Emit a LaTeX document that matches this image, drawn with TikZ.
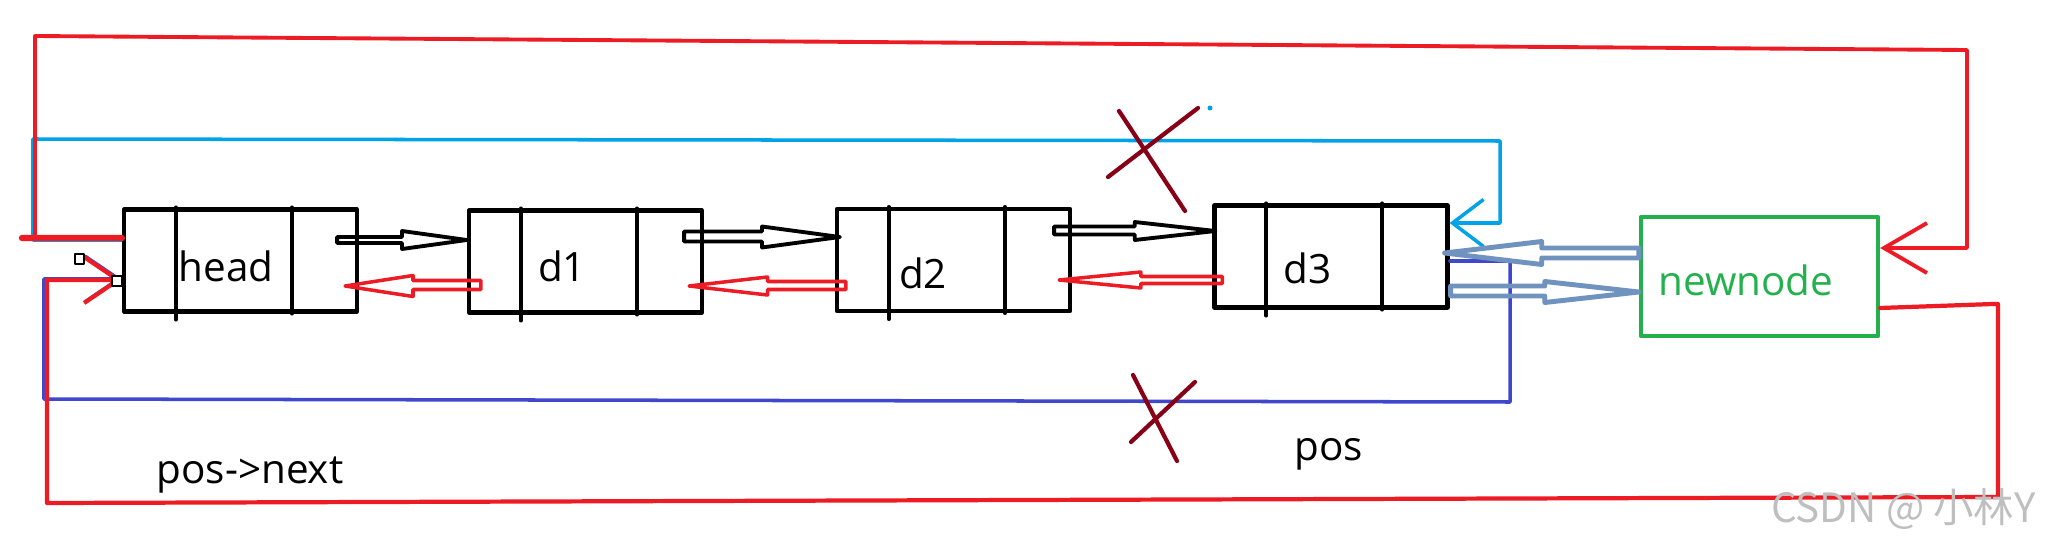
\documentclass[tikz,border=0pt]{standalone}
\usepackage{fontspec}
\setmainfont{Open Sans}
\newfontfamily\cjk{Noto Sans CJK SC}
\usetikzlibrary{calc,arrows.meta}

\definecolor{rojo}{HTML}{ED1C24}
\definecolor{celeste}{HTML}{00A2E8}
\definecolor{anil}{HTML}{3F48CC}
\definecolor{verde}{HTML}{22B14C}
\definecolor{granate}{HTML}{880015}
\definecolor{grisazul}{HTML}{7092BE}

\tikzset{
	caja/.style={draw, line width=1.2pt, minimum width=2.33cm, minimum height=1.02cm, inner sep=0pt},
	texto/.style={font=\fontsize{11.5}{13}\selectfont},
	cruz/.style={granate, line width=1.2pt},
}

% flecha hueca: estilo, medio eje, media punta, cola, punta
\newcommand{\flechahueca}[5]{%
	\draw[#1] let \p1=#4, \p2=#5, \p3=($#4!.5!#5$) in
		(\x1,\y1-#2) -- (\x3,\y1-#2) -- (\x3,\y2-#3) -- (\x2,\y2)
		-- (\x3,\y2+#3) -- (\x3,\y1+#2) -- (\x1,\y1+#2) -- cycle;}

\begin{document}
\begin{tikzpicture}[line cap=round, line join=round]
\useasboundingbox (0,0) rectangle (20.52,5.48);

% Nodos
\node[caja] (head) at (2.405,2.875) {};
\node[caja] (d1) at (5.855,2.865) {};
\node[caja] (d2) at (9.535,2.88) {};
\node[caja] (d3) at (13.31,2.915) {};
\node[caja, draw=verde, minimum width=2.37cm, minimum height=1.19cm] (newnode) at (17.595,2.715) {};

	\foreach \n in {head,d1,d2,d3} {
		\draw[line width=1.1pt] ([xshift=5.4mm]\n.north west) -- ([xshift=5.4mm,yshift=-0.6mm]\n.south west);
		\draw[line width=1.1pt] ([xshift=17mm]\n.north west) -- ([xshift=17mm]\n.south west);
	}

\node[texto] (thead) at (2.26,2.82) {head};
\node[texto] (td1) at (5.62,2.82) {d1};
\node[texto] (td2) at (9.23,2.745) {d2};
\node[texto] (td3) at (13.075,2.80) {d3};
\node[texto, text=verde] (tnew) at (17.46,2.675) {newnode};
\node[texto, anchor=base] (tpos) at (13.29,0.88) {pos};
\node[texto, anchor=base] (tnext) at (2.50,0.65) {pos->next};

% Enlaces de vuelta
\draw[celeste, line width=1pt, -{Straight Barb[length=3.1mm,width=4.7mm]}]
	([yshift=2.05mm]head.west) -- (0.33,3.08) -- (0.33,4.09) -- (15.00,4.07) -- (15.00,3.25) -- ([yshift=3.35mm]d3.east);
\draw[anil, line width=1pt, -{Straight Barb[length=3.4mm,width=4.6mm]}]
	([yshift=-0.45mm]d3.east) -- (15.10,2.87) -- (15.10,1.46) -- (0.44,1.49) -- (0.44,2.69) -- ([yshift=-1.85mm]head.west);
\draw[rojo, line width=1.8pt] (0.22,3.10) -- ([yshift=2.25mm]head.west);
\draw[rojo, line width=1.1pt, -{Straight Barb[length=4.3mm,width=5mm]}]
	([yshift=2.25mm]head.west) -- (0.35,3.10) -- (0.35,5.12) -- (19.67,4.98) -- (19.67,3.00) -- ([yshift=2.85mm]newnode.east);
\draw[rojo, line width=1.2pt, -{Straight Barb[length=3.4mm,width=4.6mm]}]
	([yshift=-3.15mm]newnode.east) -- (19.93,2.44) -- (19.98,2.44) -- (19.98,0.51) -- (0.47,0.45) -- (0.47,2.68) -- ([yshift=-1.95mm]head.west);

% Flechas entre nodos
\flechahueca{line width=1.1pt}{0.3mm}{0.9mm}{([xshift=-2.2mm,yshift=2.05mm]head.east)}{([yshift=2.15mm]d1.west)}
\flechahueca{line width=1.1pt}{0.5mm}{1.05mm}{([xshift=-2mm,yshift=2.5mm]d1.east)}{([xshift=0.5mm,yshift=2.3mm]d2.west)}
\flechahueca{line width=1.1pt}{0.4mm}{0.9mm}{([xshift=-1.8mm,yshift=2.95mm]d2.east)}{([xshift=0.3mm,yshift=2.55mm]d3.west)}
\flechahueca{rojo, line width=1pt}{0.45mm}{1.05mm}{([xshift=1.4mm,yshift=-2.35mm]d1.west)}{([xshift=-1.4mm,yshift=-2.55mm]head.east)}
\flechahueca{rojo, line width=1pt}{0.4mm}{0.9mm}{([xshift=1.1mm,yshift=-2.55mm]d2.west)}{([xshift=-1.5mm,yshift=-2.45mm]d1.east)}
\flechahueca{rojo, line width=1pt}{0.35mm}{0.8mm}{([xshift=1mm,yshift=-2.35mm]d3.west)}{([xshift=-1.3mm,yshift=-2mm]d2.east)}
\flechahueca{grisazul, line width=1.4pt}{0.5mm}{1.15mm}{([yshift=2.35mm]newnode.west)}{([xshift=-0.5mm,yshift=0.35mm]d3.east)}
\flechahueca{grisazul, line width=1.4pt}{0.5mm}{1.05mm}{([xshift=0.1mm,yshift=-3.45mm]d3.east)}{([yshift=-1.55mm]newnode.west)}

% Tachados
\draw[cruz] (11.19,4.37) -- (11.85,3.37);
\draw[cruz] (11.98,4.40) -- (11.08,3.71);
\draw[cruz] (11.33,1.73) -- (11.77,0.87);
\draw[cruz] (11.95,1.66) -- (11.31,1.06);
\fill[celeste] (12.10,4.40) circle (0.025);

\draw[fill=white, line width=0.6pt] (0.75,2.84) rectangle (0.84,2.94);
\draw[fill=white, line width=0.6pt] (1.12,2.62) rectangle (1.22,2.72);

\node[font=\cjk\fontsize{11.5}{13}\selectfont, text=black!25, anchor=east] (marca) at (20.48,0.39) {CSDN @ 小林Y};
\end{tikzpicture}
\end{document}
